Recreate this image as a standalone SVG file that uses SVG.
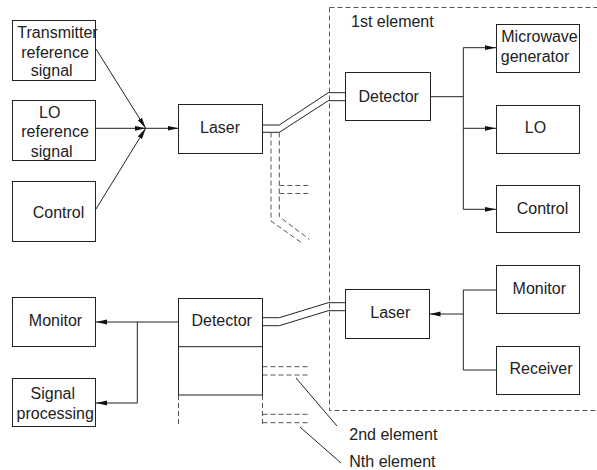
<svg xmlns="http://www.w3.org/2000/svg" width="597" height="470" viewBox="0 0 597 470">
<defs>
<marker id="ah" viewBox="0 0 11 6" refX="11" refY="3" markerWidth="11" markerHeight="6" markerUnits="userSpaceOnUse" orient="auto">
<path d="M0,0.6 L11,3 L0,5.4 z" fill="#111"/>
</marker>
<style>
.box{fill:#fff;stroke:#222;stroke-width:1}
.ln{fill:none;stroke:#222;stroke-width:1}
.arr{fill:none;stroke:#222;stroke-width:1;marker-end:url(#ah)}
.dash{fill:none;stroke:#555;stroke-width:1;stroke-dasharray:5,3}
text{font-family:"Liberation Sans",Arial,sans-serif;font-size:16px;fill:#222}
.m{text-anchor:middle}
</style>
</defs>
<rect width="597" height="470" fill="#fff"/>
<g id="element-boundary">
<path class="dash" d="M329.5,7.5 H597 M329.5,7.5 V410.5 H597"/>
<text x="351" y="27">1st element</text>
</g>
<g id="connectors">
<path class="arr" d="M96,49 L145.7,128.3"/>
<path class="arr" d="M96,128.3 H145.7"/>
<path class="arr" d="M96,209 L145.7,128.3"/>
<path class="arr" d="M145.7,128.3 H178.5"/>
<path class="ln" d="M262.5,125 H279.3 L328.3,92.7 H345.5 M262.5,132.3 H279.3 L328.3,100.7 H345.5"/>
<path class="dash" d="M271,132.5 V221 L302,243 M279.3,132.5 V216.7 L309.3,239.3 M279.3,185.5 H308.5 M279.3,193.5 H308.5"/>
<path class="ln" d="M430.5,96.7 H463.3 M463.3,47.7 V209.3"/>
<path class="arr" d="M463.3,47.7 H496"/>
<path class="arr" d="M463.3,128.3 H496"/>
<path class="arr" d="M463.3,209.3 H496"/>
<path class="ln" d="M262.5,317.7 H279.3 L328.3,302.7 H345.5 M262.5,325.7 H279.3 L328.3,310.7 H345.5"/>
<path class="ln" d="M496,290 H463.3 V370 H496"/>
<path class="arr" d="M463.3,314 H429.5"/>
<path class="arr" d="M178.5,322 H96"/>
<path class="ln" d="M137.3,322 V403"/>
<path class="arr" d="M137.3,403 H96"/>
<path class="dash" d="M262.5,366.7 H308.5 M262.5,375 H308.5 M262.5,414.3 H309.3 M262.5,422.7 H309.3 M178.5,395 V426 M262.5,395 V427"/>
<path class="ln" d="M296,378 L337,426 M300,427 L341,463"/>
</g>
<g id="transmitter-ref">
<rect class="box" x="12.5" y="20.5" width="83" height="60"/>
<text class="m" x="57.5" y="37.7">Transmitter</text>
<text class="m" x="55" y="58.3">reference</text>
<text class="m" x="51.7" y="76">signal</text>
</g>
<g id="lo-ref">
<rect class="box" x="12.5" y="100.5" width="83" height="60"/>
<text class="m" x="49.7" y="118.3">LO</text>
<text class="m" x="55" y="137.3">reference</text>
<text class="m" x="51.7" y="156.7">signal</text>
</g>
<g id="control-left">
<rect class="box" x="12.5" y="181.5" width="83" height="60"/>
<text class="m" x="58.5" y="218.3">Control</text>
</g>
<g id="laser-top">
<rect class="box" x="178.5" y="104.5" width="84" height="49"/>
<text class="m" x="220" y="133.3">Laser</text>
</g>
<g id="detector-top">
<rect class="box" x="345.5" y="72.5" width="85" height="48"/>
<text class="m" x="388.7" y="101.7">Detector</text>
</g>
<g id="microwave-generator">
<rect class="box" x="496.5" y="24.5" width="83" height="48"/>
<text class="m" x="539.5" y="41.7">Microwave</text>
<text class="m" x="535" y="61.7">generator</text>
</g>
<g id="lo-right">
<rect class="box" x="496.5" y="105.5" width="83" height="48"/>
<text class="m" x="535.5" y="132.7">LO</text>
</g>
<g id="control-right">
<rect class="box" x="496.5" y="185.5" width="83" height="47"/>
<text class="m" x="542.5" y="214.3">Control</text>
</g>
<g id="monitor-left">
<rect class="box" x="12.5" y="297.5" width="83" height="49"/>
<text class="m" x="55.5" y="326">Monitor</text>
</g>
<g id="signal-processing">
<rect class="box" x="12.5" y="378.5" width="83" height="48"/>
<text class="m" x="52.8" y="399.3">Signal</text>
<text class="m" x="55.2" y="419.3">processing</text>
</g>
<g id="detector-bottom">
<rect class="box" x="178.5" y="298.5" width="84" height="96.5"/>
<path class="ln" d="M178.5,346.7 H262.5"/>
<text class="m" x="221.7" y="325.7">Detector</text>
</g>
<g id="laser-bottom">
<rect class="box" x="345.5" y="289.5" width="84" height="49"/>
<text class="m" x="390.3" y="317.7">Laser</text>
</g>
<g id="monitor-right">
<rect class="box" x="496.5" y="265.5" width="83" height="48"/>
<text class="m" x="539.3" y="294">Monitor</text>
</g>
<g id="receiver">
<rect class="box" x="496.5" y="346.5" width="83" height="48"/>
<text class="m" x="541" y="374.3">Receiver</text>
</g>
<g id="labels">
<text x="349.3" y="439.5">2nd element</text>
<text x="349.3" y="466.5">Nth element</text>
</g>
</svg>
